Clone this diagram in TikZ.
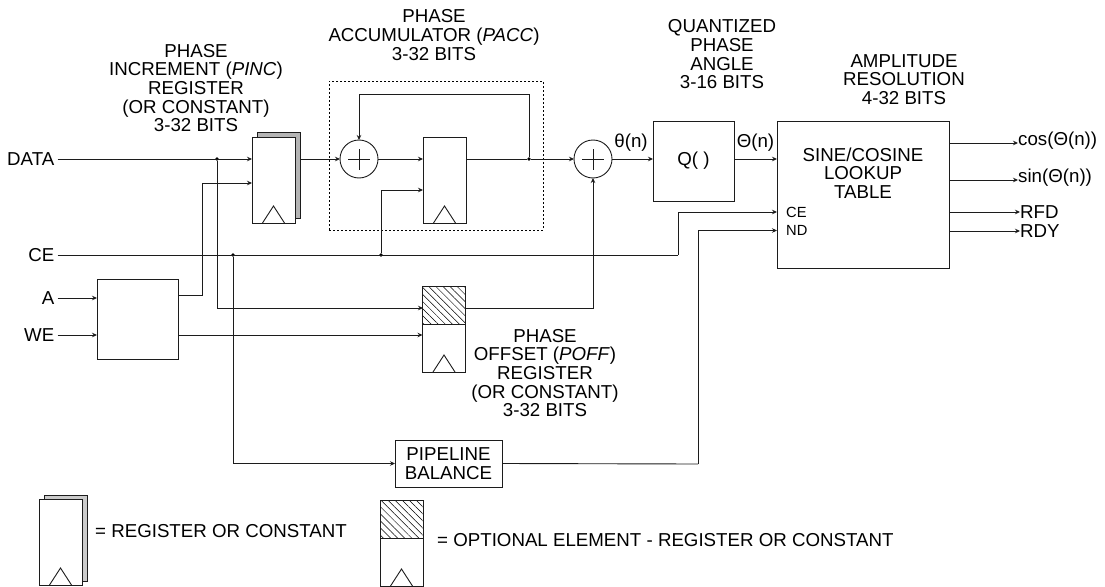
\documentclass[tikz,border=0pt]{standalone}
\usepackage{fontspec}
\setmainfont{Liberation Sans}
\usetikzlibrary{arrows.meta, patterns.meta, calc}
\definecolor{regshade}{HTML}{B4B4B4}
\definecolor{wirecol}{HTML}{1C1C1C}
\newcommand{\regtri}[1]{\draw[wire] ([xshift=-11pt]#1.south) -- ([yshift=17pt]#1.south) -- ([xshift=11pt]#1.south);}
\newcommand{\adderplus}[1]{\draw[wire] ([xshift=-11pt]#1.center) -- ([xshift=11pt]#1.center); \draw[wire] ([yshift=-10.5pt]#1.center) -- ([yshift=10.5pt]#1.center);}
\tikzset{
  wire/.style={line width=0.9pt, draw=wirecol},
  sig/.style={wire, -{Stealth[length=5pt,width=4.5pt]}},
  lbl/.style={font=\fontsize{18.7}{18.7}\selectfont, align=center, inner sep=1pt, text=black},
  inlbl/.style={lbl, anchor=east, inner xsep=3pt},
  smalllbl/.style={font=\fontsize{14.7}{15}\selectfont, inner sep=0pt, anchor=west},
  regbox/.style={wire, fill=white, rectangle, inner sep=0pt, outer sep=0pt, minimum width=43pt, minimum height=86pt},
  regback/.style={regbox, fill=regshade},
  hatchbox/.style={wire, rectangle, inner sep=0pt, outer sep=0pt, minimum width=43pt, minimum height=38pt, pattern={Lines[angle=-45,distance=5pt,line width=0.5pt]}},
  lowbox/.style={regbox, minimum height=48pt},
  adder/.style={wire, fill=white, circle, inner sep=0pt, outer sep=0pt, minimum size=38pt},
  block/.style={wire, fill=white, rectangle, inner sep=0pt, outer sep=0pt},
  dot/.style={circle, fill=black, inner sep=0pt, minimum size=3.6pt},
}
\begin{document}
\begin{tikzpicture}[x=1pt, y=-1pt]
  \useasboundingbox (0,0) rectangle (1105,586);

  % Accumulator frame
  \node[draw=black, line width=0.8pt, dash pattern=on 2pt off 2pt, rectangle, inner sep=0pt, minimum width=214pt, minimum height=149pt] (accframe) at (436,155.5) {};

  % Inputs
  \node[inlbl] (data) at (57.5,159) {DATA};
  \node[inlbl] (ce) at (57.5,255) {CE};
  \node[inlbl] (a) at (57.5,298) {A};
  \node[inlbl] (we) at (57.5,335) {WE};

  % Address block
  \node[block, minimum width=81pt, minimum height=80pt] (abox) at (137.5,319) {};

  % PINC register
  \node[regback] (pincback) at (278.5,175.5) {};
  \node[regbox] (pinc) at (273.5,180) {};
  \regtri{pinc}
  \node[lbl] (pinclbl) at (196,88) {PHASE\\INCREMENT (\textit{PINC})\\REGISTER\\(OR CONSTANT)\\3-32 BITS};

  % Accumulator
  \node[adder] (add1) at (359,159) {};
  \adderplus{add1}
  \node[regbox] (acc) at (444.5,180) {};
  \regtri{acc}
  \node[lbl] (acclbl) at (434,35) {PHASE\\ACCUMULATOR (\textit{PACC})\\3-32 BITS};

  % Second adder, quantizer, table
  \node[adder] (add2) at (593,159) {};
  \adderplus{add2}
  \node[block, minimum width=81pt, minimum height=80pt, lbl, font=\fontsize{18.7}{18.7}\selectfont] (qbox) at (693.5,161) {Q( )};
  \node[block, minimum width=172pt, minimum height=147pt] (lut) at (863,194.5) {};
  \node[lbl] (luttitle) at (863,173) {SINE/COSINE\\LOOKUP\\TABLE};
  \node[smalllbl] (lutce) at (786,212) {CE};
  \node[smalllbl] (lutnd) at (786,230.5) {ND};
  \node[lbl] (qlbl) at (722,54.5) {QUANTIZED\\PHASE\\ANGLE\\3-16 BITS};
  \node[lbl] (amplbl) at (904,79.5) {AMPLITUDE\\RESOLUTION\\4-32 BITS};
  \node[lbl] (thetalow) at (631,143) {θ(n)};
  \node[lbl] (thetacap) at (755.5,143) {Θ(n)};

  % POFF register
  \node[hatchbox] (poffh) at (444,305) {};
  \node[lowbox] (poff) at (444,348) {};
  \regtri{poff}
  \node[lbl] (pofflbl) at (545,373) {PHASE\\OFFSET (\textit{POFF})\\REGISTER\\(OR CONSTANT)\\3-32 BITS};

  % Pipeline
  \node[block, lbl, inner sep=0pt, minimum width=107pt, minimum height=47pt] (pipe) at (448.5,463.5) {PIPELINE\\BALANCE};

  % Outputs
  \node[lbl, anchor=west, inner sep=0pt] (cosout) at (1018,141) {cos(Θ(n))};
  \node[lbl, anchor=west, inner sep=0pt] (sinout) at (1018,178) {sin(Θ(n))};
  \node[lbl, anchor=west, inner sep=0pt] (rfd) at (1020,212) {RFD};
  \node[lbl, anchor=west, inner sep=0pt] (rdy) at (1020,231) {RDY};

  % Junctions
  \node[dot] (jdata) at (217,159) {};
  \node[dot] (jpipe) at (233,255) {};
  \node[dot] (jen) at (381,255) {};
  \node[dot] (jfb) at (529,159) {};
  \coordinate (aout) at (178,295);
  \coordinate (pincbend) at (202,183);
  \coordinate (poffin) at (423,308);
  \coordinate (accen) at (423,190);
  \coordinate (fbtop) at (529,94);
  \coordinate (cebend) at (678,255);
  \coordinate (ndbend) at (698,464);

  % Connectors
  \draw[sig] (data.east) -- (pinc.west |- data.east);
  \draw[sig] (aout) -| (pincbend) -- (pinc.west |- pincbend);
  \draw[sig] (a.east) -- (abox.west |- a.east);
  \draw[sig] (we.east) -- (abox.west |- we.east);
  \draw[sig] (pincback.east |- add1) -- (add1.west);
  \draw[sig] (add1.east) -- (acc.west |- add1);
  \draw[wire] (acc.east |- add1) -- (jfb);
  \draw[sig] (jfb) -- (add2.west);
  \draw[sig] (jfb) -- (fbtop) -- (add1 |- fbtop) -- (add1.north);
  \draw[sig] (add2.east) -- (qbox.west |- add2);
  \draw[sig] (qbox.east |- add2) -- (lut.west |- add2);
  \draw[wire] (ce.east) -- (cebend);
  \draw[sig] (cebend) |- (lut.west |- lutce);
  \draw[sig] (jen) |- (accen);
  \draw[sig] (jdata) |- (poffin);
  \draw[sig] (abox.east |- we.east) -- (poff.west |- we.east);
  \draw[sig] (poffh.east |- poffin) -| (add2.south);
  \draw[sig] (jpipe) |- (pipe.west);
  \draw[wire] (pipe.east) -- (ndbend);
  \draw[sig] (ndbend) |- (lut.west |- lutnd);
  \draw[sig] (lut.east |- 0,143) -- (cosout.west |- 0,143);
  \draw[sig] (lut.east |- 0,180) -- (sinout.west |- 0,180);
  \draw[sig] (lut.east |- rfd.west) -- (rfd.west);
  \draw[sig] (lut.east |- rdy.west) -- (rdy.west);

  % Legend
  \node[regback, fill=regshade!70] (keyback) at (65.5,538) {};
  \node[regbox] (keyreg) at (60.5,542) {};
  \regtri{keyreg}
  \node[lbl, anchor=west] (keytxt) at (94,531) {= REGISTER OR CONSTANT};
  \node[hatchbox] (keyhatch) at (401.5,519) {};
  \node[lowbox] (keylow) at (401.5,562) {};
  \regtri{keylow}
  \node[lbl, anchor=west] (keyopt) at (436,540) {= OPTIONAL ELEMENT - REGISTER OR CONSTANT};
\end{tikzpicture}
\end{document}
